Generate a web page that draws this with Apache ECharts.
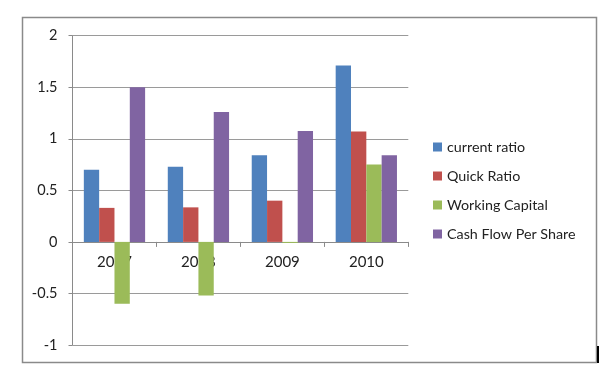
<!DOCTYPE html>
<html><head><meta charset="utf-8">
<style>html,body{margin:0;padding:0;background:#fff}#c{width:614px;height:373px}</style>
<script src="https://cdn.jsdelivr.net/npm/echarts@6/dist/echarts.min.js"></script>
</head><body><div id="c"></div>
<script>
const categories = ['2007', '2008', '2009', '2010'];
const seriesNames = ['current ratio', 'Quick Ratio', 'Working Capital', 'Cash Flow Per Share'];
const currentRatio = [0.70, 0.73, 0.84, 1.71];
const quickRatio = [0.33, 0.335, 0.40, 1.07];
const workingCapital = [-0.60, -0.52, -0.01, 0.75];
const cashFlowPerShare = [1.50, 1.26, 1.075, 0.84];
const yTicks = [-1, -0.5, 0, 0.5, 1, 1.5, 2];
const colors = ['#4F81BD', '#C0504D', '#9BBB59', '#8064A2'];

const chart = echarts.init(document.getElementById('c'), null, {renderer: 'canvas'});
const font = 'Lato, "Open Sans", sans-serif';
const values = [currentRatio, quickRatio, workingCapital, cashFlowPerShare];
const gridTop = 35.7, gridBottom = 28, plotH = 373 - gridTop - gridBottom;
const yMin = yTicks[0], yMax = yTicks[yTicks.length - 1];
// distance from bottom of plot to the zero line
const zeroOffset = plotH * (0 - yMin) / (yMax - yMin);
chart.setOption({
  animation: false,
  color: colors,
  textStyle: {fontFamily: font},
  graphic: [
    {type: 'rect', shape: {x: 22.5, y: 17.5, width: 574, height: 345}, style: {fill: 'none', stroke: '#8a8a8a', lineWidth: 1.5}, z: -1},
    {type: 'line', shape: {x1: 598, y1: 346, x2: 598, y2: 363}, style: {stroke: '#000', lineWidth: 2}}
  ],
  grid: {left: 72.5, right: 205.7, top: gridTop, bottom: gridBottom},
  legend: {
    orient: 'vertical', left: 428, top: 135,
    itemWidth: 9, itemHeight: 9, itemGap: 15,
    icon: 'rect',
    textStyle: {fontFamily: font, fontSize: 14.3, color: '#222'},
    data: seriesNames
  },
  xAxis: {
    type: 'category', data: categories, position: 'bottom', offset: -zeroOffset,
    axisLine: {onZero: false, lineStyle: {color: '#8a8a8a', width: 1}},
    axisTick: {show: true, alignWithLabel: false, length: 5, lineStyle: {color: '#8a8a8a'}},
    axisLabel: {fontSize: 15, color: '#222', margin: 13, fontFamily: font}
  },
  yAxis: {
    type: 'value', min: yMin, max: yMax, interval: 0.5,
    axisLine: {show: true, lineStyle: {color: '#8a8a8a'}},
    axisTick: {show: true, length: 4, lineStyle: {color: '#8a8a8a'}},
    splitLine: {lineStyle: {color: '#9a9a9a', width: 1}},
    axisLabel: {fontSize: 14.5, color: '#222', margin: 15, fontFamily: font}
  },
  series: seriesNames.map((n, i) => ({
    name: n, type: 'bar', data: values[i],
    barGap: '0%', barCategoryGap: '27%'
  }))
});
</script></body></html>
